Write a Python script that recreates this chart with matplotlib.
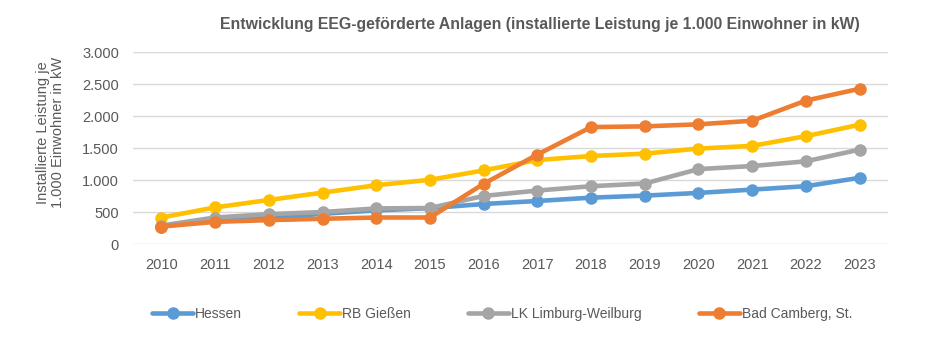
import matplotlib.pyplot as plt
from matplotlib.ticker import FuncFormatter

# Daten
years = [2010, 2011, 2012, 2013, 2014, 2015, 2016, 2017, 2018, 2019, 2020, 2021, 2022, 2023]
hessen = [273, 378, 404, 472, 525, 560, 625, 672, 724, 756, 798, 850, 903, 1034]
rb_giessen = [414, 572, 688, 803, 918, 1003, 1150, 1312, 1375, 1412, 1491, 1533, 1685, 1864]
lk_limburg = [289, 414, 467, 499, 556, 562, 751, 835, 903, 945, 1170, 1218, 1292, 1475]
bad_camberg = [273, 346, 373, 394, 414, 414, 940, 1397, 1827, 1838, 1870, 1926, 2241, 2425]

series = [
    ("Hessen", hessen, "#5B9BD5"),
    ("RB Gießen", rb_giessen, "#FFC000"),
    ("LK Limburg-Weilburg", lk_limburg, "#A5A5A5"),
    ("Bad Camberg, St.", bad_camberg, "#ED7D31"),
]

plt.rcParams['font.family'] = ['Liberation Sans', 'DejaVu Sans']
text_color = "#595959"

fig = plt.figure(figsize=(9.52, 3.56), dpi=100)
ax = fig.add_axes([133 / 952, 1 - 244 / 356, (888 - 133) / 952, (244 - 52) / 356])

x = list(range(len(years)))
for name, vals, col in series:
    ax.plot(x, vals, color=col, lw=3.3, marker="o", ms=8, label=name,
            solid_capstyle="round")

ax.set_xlim(-0.53, len(years) - 0.47)
ax.set_ylim(0, 3000)
ax.set_yticks(range(0, 3001, 500))
ax.yaxis.set_major_formatter(FuncFormatter(lambda v, p: f"{int(v):,}".replace(",", ".")))
ax.set_xticks(x)
ax.set_xticklabels([str(y) for y in years])
ax.grid(axis="y", color="#D9D9D9", lw=1)
ax.set_axisbelow(True)
for s in ax.spines.values():
    s.set_visible(False)
ax.tick_params(length=0, labelsize=10.5, colors=text_color)
ax.tick_params(axis="y", pad=10)
ax.tick_params(axis="x", pad=10)

ax.set_ylabel("Installierte Leistung je\n1.000 Einwohner in kW", fontsize=10.5,
              color=text_color, linespacing=1.05)
ax.yaxis.set_label_coords(-0.090, 0.58)

fig.text(540 / 952, 1 - 24 / 356,
         "Entwicklung EEG-geförderte Anlagen (installierte Leistung je 1.000 Einwohner in kW)",
         ha="center", va="center", fontsize=11.4, fontweight="bold", color=text_color)

leg = fig.legend(loc="center", bbox_to_anchor=(502 / 952, 1 - 314 / 356), ncol=4,
                 frameon=False, fontsize=10, handlelength=2.95, handletextpad=0.15,
                 columnspacing=4.1, labelcolor=text_color)

fig.savefig("out.png", dpi=100)
